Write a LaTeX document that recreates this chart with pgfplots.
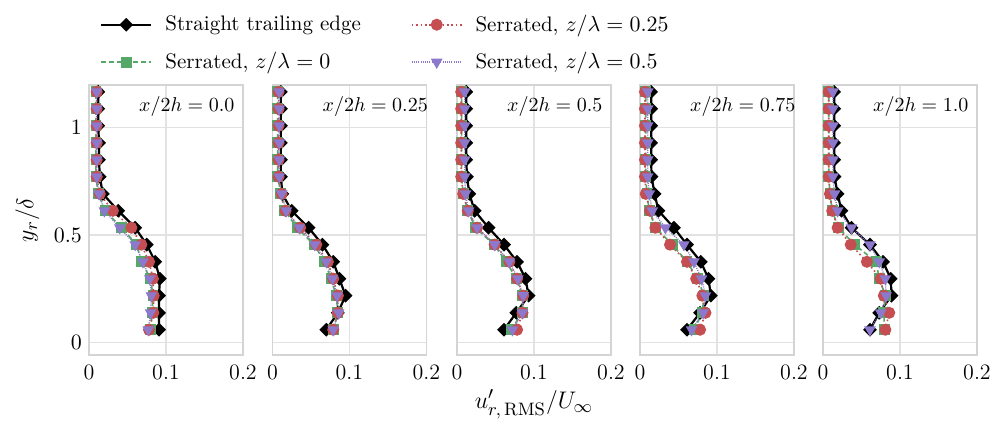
\documentclass[border=0pt]{standalone}
\usepackage{pgfplots}
\usepackage{pgfplotstable}
\pgfplotsset{compat=1.18}
\definecolor{cgreen}{HTML}{55A868}
\definecolor{cred}{HTML}{C44E52}
\definecolor{cpurple}{HTML}{8C78CC}
\definecolor{cgrid}{HTML}{E2E2E2}
\definecolor{cframe}{HTML}{D4D4D4}

% columns: y, straight (s), serrated z/l=0 (a), z/l=0.25 (b), z/l=0.5 (c)
\pgfplotstableread{
y s a b c
0.058 0.091 0.080 0.078 0.077
0.137 0.091 0.082 0.0835 0.080
0.217 0.091 0.083 0.084 0.081
0.296 0.092 0.080 0.083 0.079
0.375 0.086 0.068 0.078 0.070
0.455 0.075 0.062 0.068 0.060
0.534 0.060 0.042 0.055 0.040
0.613 0.038 0.021 0.031 0.020
0.692 0.018 0.012 0.014 0.013
0.772 0.014 0.009 0.010 0.010
0.851 0.013 0.009 0.010 0.010
0.930 0.013 0.009 0.010 0.010
1.010 0.012 0.009 0.010 0.010
1.089 0.012 0.009 0.010 0.010
1.168 0.012 0.009 0.010 0.010
}\tA
\pgfplotstableread{
y s a b c
0.058 0.070 0.079 0.079 0.079
0.137 0.085 0.085 0.085 0.086
0.217 0.095 0.083 0.085 0.084
0.296 0.087 0.076 0.079 0.078
0.375 0.079 0.068 0.072 0.070
0.455 0.065 0.054 0.057 0.055
0.534 0.047 0.032 0.036 0.035
0.613 0.025 0.016 0.017 0.018
0.692 0.013 0.011 0.012 0.012
0.772 0.011 0.007 0.008 0.009
0.851 0.011 0.007 0.008 0.009
0.930 0.011 0.007 0.008 0.009
1.010 0.011 0.007 0.008 0.009
1.089 0.011 0.007 0.008 0.009
1.168 0.011 0.007 0.008 0.009
}\tB
\pgfplotstableread{
y s a b c
0.058 0.061 0.070 0.078 0.072
0.137 0.077 0.085 0.085 0.085
0.217 0.093 0.085 0.086 0.086
0.296 0.089 0.077 0.078 0.079
0.375 0.078 0.064 0.068 0.068
0.455 0.061 0.048 0.049 0.049
0.534 0.041 0.024 0.026 0.026
0.613 0.023 0.014 0.014 0.015
0.692 0.016 0.008 0.008 0.011
0.772 0.013 0.006 0.0055 0.010
0.851 0.012 0.006 0.0055 0.010
0.930 0.012 0.006 0.0055 0.010
1.010 0.012 0.006 0.0055 0.010
1.089 0.012 0.006 0.0055 0.010
1.168 0.012 0.006 0.0055 0.010
}\tC
\pgfplotstableread{
y s a b c
0.058 0.061 0.070 0.078 0.067
0.137 0.078 0.081 0.085 0.082
0.217 0.092 0.083 0.081 0.085
0.296 0.089 0.075 0.073 0.080
0.375 0.079 0.061 0.061 0.070
0.455 0.061 0.042 0.039 0.057
0.534 0.044 0.020 0.020 0.033
0.613 0.024 0.012 0.013 0.016
0.692 0.019 0.009 0.0075 0.012
0.772 0.015 0.0075 0.0065 0.010
0.851 0.0145 0.0075 0.0065 0.010
0.930 0.0145 0.0075 0.0065 0.010
1.010 0.0145 0.0075 0.0065 0.010
1.089 0.0145 0.0075 0.0065 0.010
1.168 0.0145 0.0075 0.0065 0.010
}\tD
\pgfplotstableread{
y s a b c
0.058 0.061 0.080 0.081 0.061
0.137 0.073 0.079 0.086 0.075
0.217 0.089 0.081 0.079 0.082
0.296 0.088 0.073 0.075 0.081
0.375 0.078 0.069 0.057 0.073
0.455 0.061 0.041 0.036 0.061
0.534 0.037 0.020 0.019 0.037
0.613 0.024 0.012 0.012 0.019
0.692 0.019 0.009 0.009 0.015
0.772 0.015 0.0075 0.0075 0.013
0.851 0.0145 0.0075 0.0075 0.013
0.930 0.0145 0.0075 0.0075 0.013
1.010 0.0145 0.0075 0.0075 0.013
1.089 0.0145 0.0075 0.0075 0.013
1.168 0.0145 0.0075 0.0075 0.013
}\tE

\pgfplotsset{
  panel/.style={
    scale only axis, width=77pt, height=135pt,
    anchor=south west,
    xmin=0, xmax=0.2, ymin=-0.06, ymax=1.2,
    xtick={0,0.1,0.2}, ytick={0,0.5,1},
    xticklabels={0,0.1,0.2},
    grid=major,
    major grid style={cgrid, line width=0.6pt},
    axis line style={cframe, line width=0.7pt},
    tick style={draw=none},
    tick label style={font=\fontsize{11}{13}\selectfont},
    xticklabel style={yshift=-1.5pt},
    clip=false,
  },
  sA/.style={black, line width=1.1pt, mark=square*, mark size=1.9pt, mark options={rotate=45, solid, fill=black}},
  sB/.style={cgreen, line width=0.8pt, dash pattern=on 2.5pt off 1.5pt, mark=square*, mark size=2.3pt, mark options={solid, fill=cgreen}},
  sC/.style={cred, line width=0.8pt, dash pattern=on 0.8pt off 1.4pt, mark=*, mark size=2.6pt, mark options={solid, fill=cred}},
  sD/.style={cpurple, line width=0.7pt, dash pattern=on 0.5pt off 0.6pt, mark=triangle*, mark size=2.7pt, mark options={solid, rotate=180, fill=cpurple}},
}
\newcommand{\panelplots}[1]{%
  \addplot[sA, forget plot] table[x=s, y=y] {#1};
  \addplot[sB, forget plot] table[x=a, y=y] {#1};
  \addplot[sC, forget plot] table[x=b, y=y] {#1};
  \addplot[sD, forget plot] table[x=c, y=y] {#1};
}
\newcommand{\ptitle}[1]{\node[anchor=west, font=\fontsize{9.6}{11}\selectfont] at (rel axis cs:0.28,0.922) {#1};}

\begin{document}
\begin{tikzpicture}
\useasboundingbox (0,0) rectangle (501.5pt,210pt);
\begin{axis}[panel, at={(44.5pt,32.5pt)},
  ylabel={$y_r/\delta$}, ylabel style={font=\fontsize{13}{15}\selectfont, at={(axis description cs:-0.40,0.5)}, anchor=center},
  legend columns=2,
  legend cell align=left,
  legend style={draw=none, fill=none, font=\fontsize{10.5}{12.5}\selectfont,
    at={(axis description cs:0.031,1.154)}, anchor=west,
    /tikz/every odd column/.append style={column sep=4.5pt},
    /tikz/every even column/.append style={column sep=23pt},
    row sep=5pt},
  legend image code/.code={\draw[mark repeat=2,mark phase=2,#1] plot coordinates {(0pt,0pt) (12.5pt,0pt) (25pt,0pt)};},
]
\addlegendimage{sA}\addlegendentry{Straight trailing edge}
\addlegendimage{sC}\addlegendentry{Serrated, $z/\lambda=0.25$}
\addlegendimage{sB}\addlegendentry{Serrated, $z/\lambda=0$}
\addlegendimage{sD}\addlegendentry{Serrated, $z/\lambda=0.5$}
\panelplots{\tA}
\ptitle{$x/2h=0.0$}
\end{axis}
\begin{axis}[panel, at={(136.2pt,32.5pt)}, yticklabels={}]
\panelplots{\tB}
\ptitle{$x/2h=0.25$}
\end{axis}
\begin{axis}[panel, at={(228.5pt,32.5pt)}, yticklabels={},
  xlabel={$u'_{r,\,\mathrm{RMS}}/U_\infty$}, xlabel style={font=\fontsize{12.5}{14}\selectfont, yshift=2pt}]
\panelplots{\tC}
\ptitle{$x/2h=0.5$}
\end{axis}
\begin{axis}[panel, at={(320pt,32.5pt)}, yticklabels={}]
\panelplots{\tD}
\ptitle{$x/2h=0.75$}
\end{axis}
\begin{axis}[panel, at={(411.5pt,32.5pt)}, yticklabels={}]
\panelplots{\tE}
\ptitle{$x/2h=1.0$}
\end{axis}
\end{tikzpicture}
\end{document}
